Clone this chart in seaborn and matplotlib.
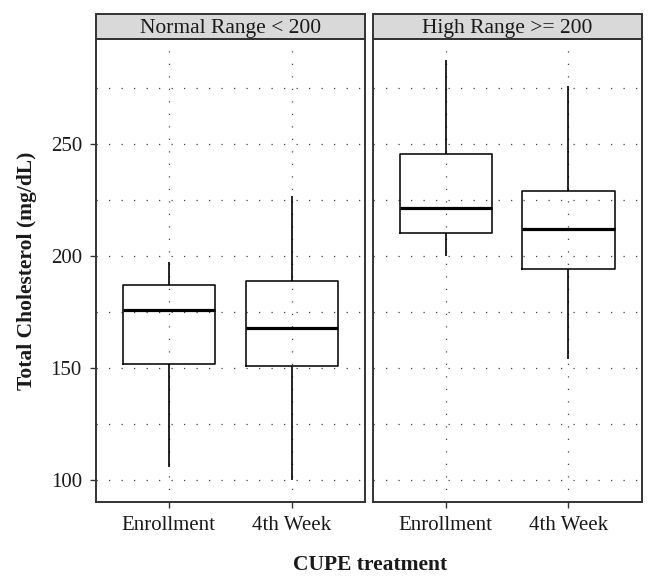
import matplotlib
matplotlib.use("Agg")
import matplotlib.pyplot as plt
from matplotlib.patches import Rectangle
import seaborn as sns
import pandas as pd

# Data (five-number summaries)
panels = ["Normal Range < 200", "High Range >= 200"]
treatments = ["Enrollment", "4th Week"]
normal_enrollment = [105.7, 151.8, 175.9, 187.0, 197.5]
normal_week4 = [100.0, 150.8, 167.7, 189.0, 226.8]
high_enrollment = [200.0, 210.1, 221.3, 245.4, 287.5]
high_week4 = [154.0, 194.0, 212.2, 229.2, 276.0]
y_ticks = [100, 150, 200, 250]
y_minor = [125, 175, 225, 275]

rows = []
for panel, series in zip(panels, [(normal_enrollment, normal_week4), (high_enrollment, high_week4)]):
    for trt, vals in zip(treatments, series):
        for v in vals:
            rows.append({"panel": panel, "treatment": trt, "value": v})
df = pd.DataFrame(rows)

sns.set_theme(style="white")
plt.rcParams["font.family"] = ["Liberation Serif", "DejaVu Serif"]

fig, axes = plt.subplots(1, 2, figsize=(6.56, 5.82), dpi=100, sharey=True)
fig.subplots_adjust(left=0.146, right=0.978, bottom=0.138, top=0.933, wspace=0.029)

edge = "#333333"
for ax, panel in zip(axes, panels):
    sub = df[df["panel"] == panel]
    # dotted grid
    for y in y_ticks + y_minor:
        ax.axhline(y, color="#444444", lw=0.9, ls=(0, (1, 9)), zorder=0)
    for x in range(len(treatments)):
        ax.axvline(x, color="#444444", lw=0.9, ls=(0, (1, 9)), zorder=0)
    sns.boxplot(data=sub, x="treatment", y="value", order=treatments, ax=ax,
                whis=(0, 100), width=0.75, color="#111111",
                saturation=1, linewidth=1.2, showcaps=False, fill=False,
                medianprops=dict(linewidth=2.3, color="black"),
                whiskerprops=dict(linewidth=1.2, color="black"))
    ax.set_xlim(-0.595, 1.595)
    ax.set_ylim(90.3, 296.9)
    ax.set_yticks(y_ticks)
    ax.set_xlabel("")
    ax.set_ylabel("")
    for s in ax.spines.values():
        s.set_visible(True)
        s.set_color(edge)
        s.set_linewidth(1.4)
    ax.tick_params(axis="both", which="major", length=4, width=1.0, color=edge,
                   labelsize=15, labelcolor="#1a1a1a", pad=6, direction="out")
    ax.tick_params(axis="y", left=True)
    ax.tick_params(axis="x", bottom=True, pad=6)
    # strip header
    rect = Rectangle((0, 1.0), 1, 0.054, transform=ax.transAxes, clip_on=False,
                     facecolor="#d9d9d9", edgecolor=edge, linewidth=1.4)
    ax.add_patch(rect)
    ax.text(0.5, 1.023, panel, transform=ax.transAxes, ha="center", va="center",
            fontsize=15.5, color="#1a1a1a")

axes[1].tick_params(axis="y", left=False, labelleft=False)
axes[0].set_ylabel("Total Cholesterol (mg/dL)", fontsize=15.5, fontweight="bold",
                   color="#1a1a1a", labelpad=10)
fig.text(0.564, 0.029, "CUPE treatment", ha="center", va="center", fontsize=15.5,
         fontweight="bold", color="#1a1a1a")

fig.savefig("out.png", dpi=100, facecolor="white")
